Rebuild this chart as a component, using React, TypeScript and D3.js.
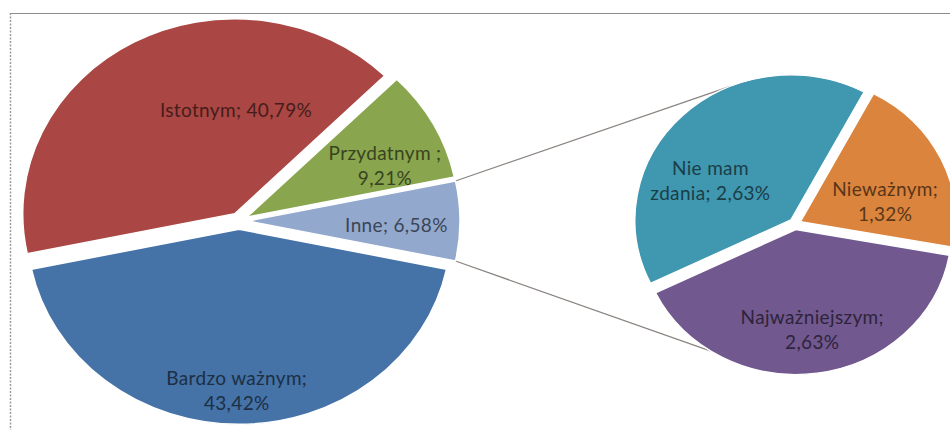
import React from "react";
import * as d3 from "d3";

// Main pie: answers, "Inne" is split out into the secondary pie
const mainCategories = ["Bardzo ważnym", "Istotnym", "Przydatnym ", "Inne"];
const mainValues = [43.42, 40.79, 9.21, 6.58];
// Secondary pie: breakdown of "Inne"
const otherCategories = ["Nie mam\nzdania", "Nieważnym", "Najważniejszym"];
const otherValues = [2.63, 1.32, 2.63];

const mainColors = ["#4572A7", "#AA4643", "#89A54E", "#92A8CD"];
const otherColors = ["#3F97B0", "#DB843D", "#71588F"];

// whether the value goes on its own line
const mainValueOnNewLine = [true, false, true, false];
const otherValueOnNewLine = [false, true, true];

// label anchors: [angle in degrees clockwise from 12 o'clock, fraction of radius]
const mainLabelPolar: [number, number][] = [
  [180.7, 0.867],
  [-1.4, 0.57],
  [67.2, 0.747],
  [91.5, 0.743],
];
const otherLabelPolar: [number, number][] = [
  [-61, 0.62],
  [74.4, 0.6],
  [171.3, 0.73],
];

const W = 950;
const H = 430;

const fmt = (v: number) => v.toFixed(2).replace(".", ",") + "%";

function labelLines(name: string, value: number, split: boolean): string[] {
  const nameLines = name.split("\n");
  const last = nameLines.pop() as string;
  if (split) return [...nameLines, last + ";", fmt(value)];
  return [...nameLines, `${last}; ${fmt(value)}`];
}

const rad = (deg: number) => (deg * Math.PI) / 180;

export default function App() {
  // main pie geometry
  const m = { cx: 239, cy: 221, rx: 212, ry: 195, explode: 9 };
  // secondary pie geometry
  const s = { cx: 795, cy: 224, rx: 156, ry: 145, explode: 6 };

  const mainOrder = [1, 2, 3, 0]; // clockwise draw order: Istotnym, Przydatnym, Inne, Bardzo ważnym
  const total = d3.sum(mainValues);
  const innePos = mainOrder.indexOf(3);
  const before = d3.sum(mainOrder.slice(0, innePos).map((i) => mainValues[i]));
  // "Inne" is centred at 3 o'clock
  const mainStart = Math.PI / 2 - (2 * Math.PI * (before + mainValues[3] / 2)) / total;

  const mainPie = d3
    .pie<number>()
    .value((i) => mainValues[i])
    .sort(null)
    .startAngle(mainStart)
    .endAngle(mainStart + 2 * Math.PI);
  const mainArcs = mainPie(mainOrder);

  const otherOrder = [1, 2, 0]; // Nieważnym, Najważniejszym, Nie mam zdania
  const otherStart = rad(28);
  const otherPie = d3
    .pie<number>()
    .value((i) => otherValues[i])
    .sort(null)
    .startAngle(otherStart)
    .endAngle(otherStart + 2 * Math.PI);
  const otherArcs = otherPie(otherOrder);

  const mainArc = d3.arc<any>().innerRadius(0).outerRadius(m.rx);
  const otherArc = d3.arc<any>().innerRadius(0).outerRadius(s.rx);

  const offset = (a: d3.PieArcDatum<number>, e: number) => {
    const mid = (a.startAngle + a.endAngle) / 2;
    return [Math.sin(mid) * e, -Math.cos(mid) * e];
  };

  // screen point on an exploded slice edge
  const edgePoint = (
    g: typeof m,
    a: d3.PieArcDatum<number>,
    ang: number
  ): [number, number] => {
    const [ox, oy] = offset(a, g.explode);
    const k = g.ry / g.rx;
    return [g.cx + ox + g.rx * Math.sin(ang), g.cy + (oy - g.rx * Math.cos(ang)) * k];
  };

  const inneArc = mainArcs[innePos];
  const tealArc = otherArcs[otherOrder.indexOf(0)];
  const purpleArc = otherArcs[otherOrder.indexOf(2)];
  const pTop = edgePoint(m, inneArc, inneArc.startAngle);
  const pBot = edgePoint(m, inneArc, inneArc.endAngle);
  const qTop = edgePoint(s, tealArc, rad(-22.6) + 2 * Math.PI);
  const qBot = edgePoint(s, purpleArc, rad(213));

  const fontFamily = "Lato, 'Open Sans', sans-serif";
  const lineH = 25;

  const renderLabel = (
    g: typeof m,
    polar: [number, number],
    lines: string[],
    color: string,
    key: string
  ) => {
    const a = rad(polar[0]);
    const x = g.cx + Math.sin(a) * polar[1] * g.rx;
    const y = g.cy - Math.cos(a) * polar[1] * g.ry;
    const y0 = y - ((lines.length - 1) * lineH) / 2;
    const fill = d3.color(color)!.darker(2.5).formatHex();
    return (
      <text
        key={key}
        x={x}
        y={y0}
        textAnchor="middle"
        fontFamily={fontFamily}
        fontSize={19}
        letterSpacing={0.35}
        fill={fill}
      >
        {lines.map((l, i) => (
          <tspan key={i} x={x} y={y0 + i * lineH} dominantBaseline="central">
            {l}
          </tspan>
        ))}
      </text>
    );
  };

  return (
    <svg
      width={W}
      height={H}
      style={{ position: "absolute", left: 0, top: 0, background: "#fff" }}
    >
      <rect x={0} y={0} width={W} height={H} fill="#fff" />
      {/* chart frame */}
      <line x1={10} y1={13.5} x2={W} y2={13.5} stroke="#8c8c8c" strokeWidth={1.2} />
      <line
        x1={10.5}
        y1={13}
        x2={10.5}
        y2={H}
        stroke="#9a9a9a"
        strokeWidth={1.5}
        strokeDasharray="2,1.5"
      />

      {/* connector lines */}
      <line x1={pTop[0]} y1={pTop[1]} x2={qTop[0]} y2={qTop[1]} stroke="#8a8480" strokeWidth={1.2} />
      <line x1={pBot[0]} y1={pBot[1]} x2={qBot[0]} y2={qBot[1]} stroke="#8a8480" strokeWidth={1.2} />

      <g transform={`translate(${m.cx},${m.cy}) scale(1,${m.ry / m.rx})`}>
        {mainArcs.map((a) => {
          const [ox, oy] = offset(a, m.explode);
          return (
            <path
              key={a.data}
              d={mainArc(a) as string}
              transform={`translate(${ox},${oy})`}
              fill={mainColors[a.data]}
              stroke="#fff"
              strokeWidth={1.5}
            />
          );
        })}
      </g>

      <g transform={`translate(${s.cx},${s.cy}) scale(1,${s.ry / s.rx})`}>
        {otherArcs.map((a) => {
          const [ox, oy] = offset(a, s.explode);
          return (
            <path
              key={a.data}
              d={otherArc(a) as string}
              transform={`translate(${ox},${oy})`}
              fill={otherColors[a.data]}
              stroke="#fff"
              strokeWidth={1.5}
            />
          );
        })}
      </g>

      {mainCategories.map((c, i) =>
        renderLabel(
          m,
          mainLabelPolar[i],
          labelLines(c, mainValues[i], mainValueOnNewLine[i]),
          mainColors[i],
          "m" + i
        )
      )}
      {otherCategories.map((c, i) =>
        renderLabel(
          s,
          otherLabelPolar[i],
          labelLines(c, otherValues[i], otherValueOnNewLine[i]),
          otherColors[i],
          "o" + i
        )
      )}
    </svg>
  );
}
